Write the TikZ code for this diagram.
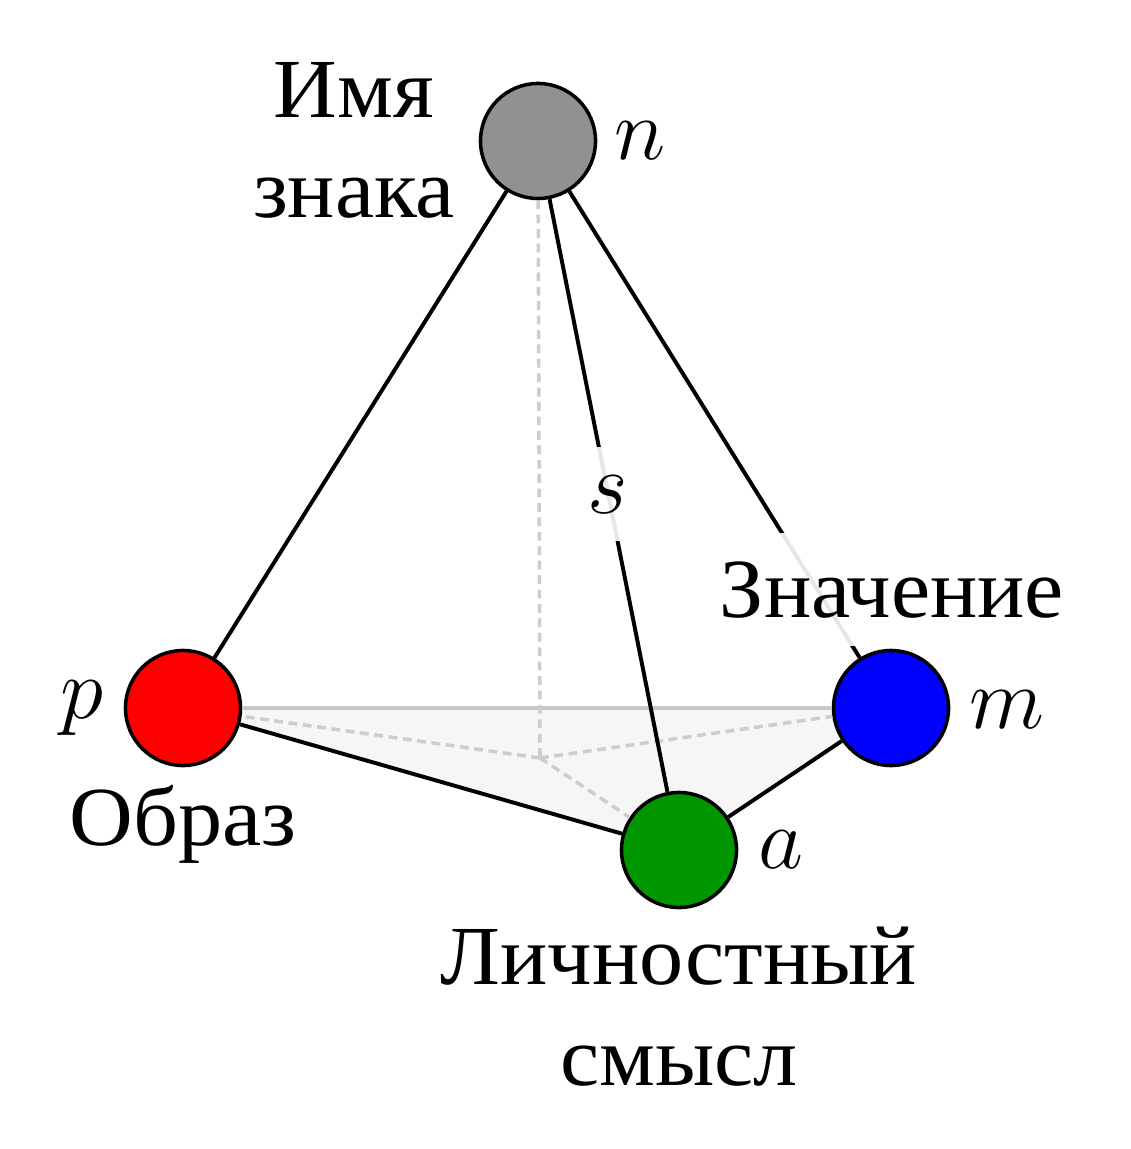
\documentclass[tikz,border=0pt]{standalone}
\usepackage{fontspec}
\setmainfont[FakeStretch=1.05]{Liberation Serif}
\usetikzlibrary{backgrounds}
\definecolor{nodegray}{RGB}{145,145,145}
\definecolor{nodegreen}{RGB}{0,150,0}
\definecolor{basefill}{RGB}{246,246,246}
\definecolor{pmgray}{RGB}{200,200,200}
\definecolor{dashgray}{RGB}{205,205,205}
\begin{document}
\begin{tikzpicture}[x=0.01cm,y=-0.01cm,
  every node/.style={font=\fontsize{23.9pt}{28.45pt}\selectfont},
  vert/.style={circle,draw=black,line width=1pt,minimum size=1.15cm,inner sep=0pt},
  solidedge/.style={line width=1.12pt,black},
  backedge/.style={line width=0.95pt,color=pmgray},
  hiddenline/.style={line width=1pt,color=dashgray,dash pattern=on 2.5pt off 1.6pt},
  txt/.style={inner sep=0pt,anchor=base,align=center},
  cover/.style={fill=white,fill opacity=0.9,text opacity=1,inner sep=0.28cm,anchor=base}]
\useasboundingbox (0,0) rectangle (1130,1149);
\coordinate (c) at (540,758);
\node[vert,fill=nodegray] (n) at (538,141) {};
\node[vert,fill=red] (p) at (183,708) {};
\node[vert,fill=blue] (m) at (891,708) {};
\node[vert,fill=nodegreen] (a) at (679,850) {};
\begin{scope}[on background layer]
  \fill[basefill] (p.center) -- (m.center) -- (a.center) -- cycle;
\end{scope}
\draw[backedge] (p) -- (m);
\draw[hiddenline] (c) -- (p);
\draw[hiddenline] (c) -- (m);
\draw[hiddenline] (c) -- (a);
\draw[hiddenline] (n) -- (c);
\draw[solidedge] (n) -- (p);
\draw[solidedge] (n) -- (a);
\draw[solidedge] (n) -- (m);
\draw[solidedge] (p) -- (a);
\draw[solidedge] (a) -- (m);
\node[cover] (sl) at (608,513) {$s$};
\node[cover] (ml) at (892,617) {Значение};
\node[txt] (nl) at (640,160) {$n$};
\node[txt] (pl) at (82,718) {$p$};
\node[txt] (mm) at (1007,728) {$m$};
\node[txt] (al) at (781,868) {$a$};
\node[txt] (nt) at (354,218) {Имя\\знака};
\node[txt] (pt) at (183,845) {Образ};
\node[txt] (at) at (679,1085) {Личностный\\смысл};
\end{tikzpicture}
\end{document}
